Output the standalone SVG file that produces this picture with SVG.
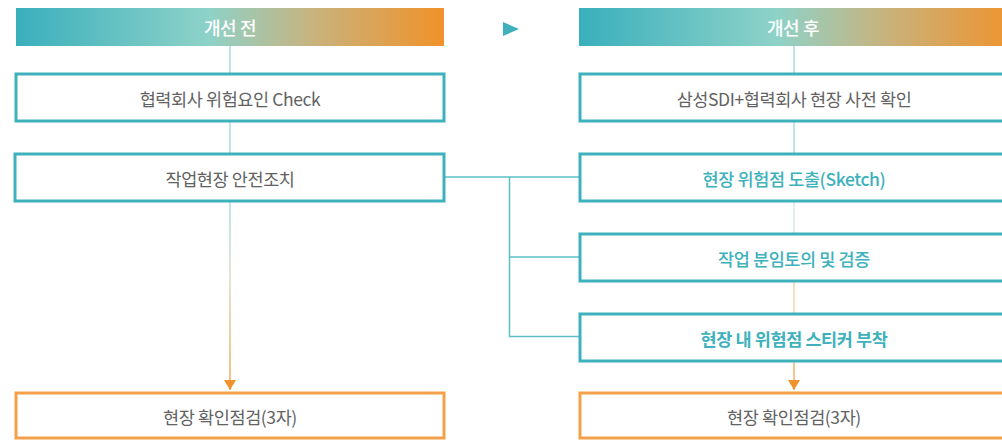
<svg xmlns="http://www.w3.org/2000/svg" width="1002" height="440" viewBox="0 0 1002 440">
<defs>
<linearGradient id="hdr" x1="0" y1="0" x2="1" y2="0">
<stop offset="0" stop-color="#3aafbc"/>
<stop offset="0.45" stop-color="#8ed2c8"/>
<stop offset="0.7" stop-color="#c9b27c"/>
<stop offset="1" stop-color="#f0922a"/>
</linearGradient>
<linearGradient id="vl" gradientUnits="userSpaceOnUse" x1="0" y1="202" x2="0" y2="388">
<stop offset="0" stop-color="#a8dde0"/>
<stop offset="0.4" stop-color="#d8dcc8"/>
<stop offset="1" stop-color="#f2a851"/>
</linearGradient>
<marker id="arr" markerWidth="12" markerHeight="12" refX="10" refY="6" orient="auto" markerUnits="userSpaceOnUse">
<path d="M0,0 L10,6 L0,12 Z" fill="#f0922a"/>
</marker>
<style>
.box{fill:#fff;stroke:#3eb1bc;stroke-width:3}
.obox{fill:#fff;stroke:#f4a04a;stroke-width:3}
.t{font-family:"Noto Sans CJK KR","Noto Sans",sans-serif;font-size:17.5px;text-anchor:middle;dominant-baseline:central;letter-spacing:-0.4px}
.g{fill:#626262}
.c{fill:#3eb1bc;font-weight:500}
.cb{fill:#3eb1bc;font-weight:700}
.h{fill:#fff;font-weight:500;font-size:18px}
.ln{stroke:#5cbfc7;stroke-width:1.5;fill:none}
.lt{stroke:#a8dde0;stroke-width:1.5;fill:none}
</style>
</defs>

<g id="connectors">
<line class="lt" x1="230" y1="46" x2="230" y2="73"/>
<line class="lt" x1="230" y1="121" x2="230" y2="153"/>
<line x1="230" y1="202" x2="230" y2="390" stroke="url(#vl)" stroke-width="1.5" marker-end="url(#arr)"/>
<line class="lt" x1="794" y1="46" x2="794" y2="73"/>
<line class="lt" x1="794" y1="121" x2="794" y2="153"/>
<line x1="794" y1="201" x2="794" y2="233" stroke="#d4ebe5" stroke-width="1.5"/>
<line x1="794" y1="281" x2="794" y2="313" stroke="#edd6b5" stroke-width="1.5"/>
<line x1="794" y1="361" x2="794" y2="390" stroke="#f5b36a" stroke-width="1.5" marker-end="url(#arr)"/>
<polyline class="ln" points="444,177 579,177"/>
<polyline class="ln" points="509.5,177 509.5,336.5 579,336.5"/>
<line class="ln" x1="509.5" y1="257" x2="579" y2="257"/>
<path d="M503,22 L519,29 L503,36 Z" fill="#3eb1bc"/>
</g>

<g id="header-before">
<rect x="16" y="8" width="428" height="38" fill="url(#hdr)"/>
<text class="t h" x="230" y="27">개선 전</text>
</g>
<g id="header-after">
<rect x="579" y="8" width="440" height="38" fill="url(#hdr)"/>
<text class="t h" x="793" y="27">개선 후</text>
</g>

<g id="before-1">
<rect class="box" x="16" y="74" width="428" height="47"/>
<text class="t g" x="230" y="98">협력회사 위험요인 Check</text>
</g>
<g id="before-2">
<rect class="box" x="15" y="154" width="429" height="47"/>
<text class="t g" x="230" y="178">작업현장 안전조치</text>
</g>
<g id="before-3">
<rect class="obox" x="16" y="393" width="428" height="45"/>
<text class="t g" x="230" y="416">현장 확인점검(3자)</text>
</g>

<g id="after-1">
<rect class="box" x="580" y="74" width="440" height="47"/>
<text class="t g" x="794" y="98">삼성SDI+협력회사 현장 사전 확인</text>
</g>
<g id="after-2">
<rect class="box" x="580" y="154" width="440" height="47"/>
<text class="t c" x="794" y="178">현장 위험점 도출(Sketch)</text>
</g>
<g id="after-3">
<rect class="box" x="580" y="234" width="440" height="47"/>
<text class="t c" x="794" y="258">작업 분임토의 및 검증</text>
</g>
<g id="after-4">
<rect class="box" x="580" y="314" width="440" height="47"/>
<text class="t cb" x="794" y="338">현장 내 위험점 스티커 부착</text>
</g>
<g id="after-5">
<rect class="obox" x="580" y="393" width="440" height="45"/>
<text class="t g" x="794" y="416">현장 확인점검(3자)</text>
</g>
</svg>
